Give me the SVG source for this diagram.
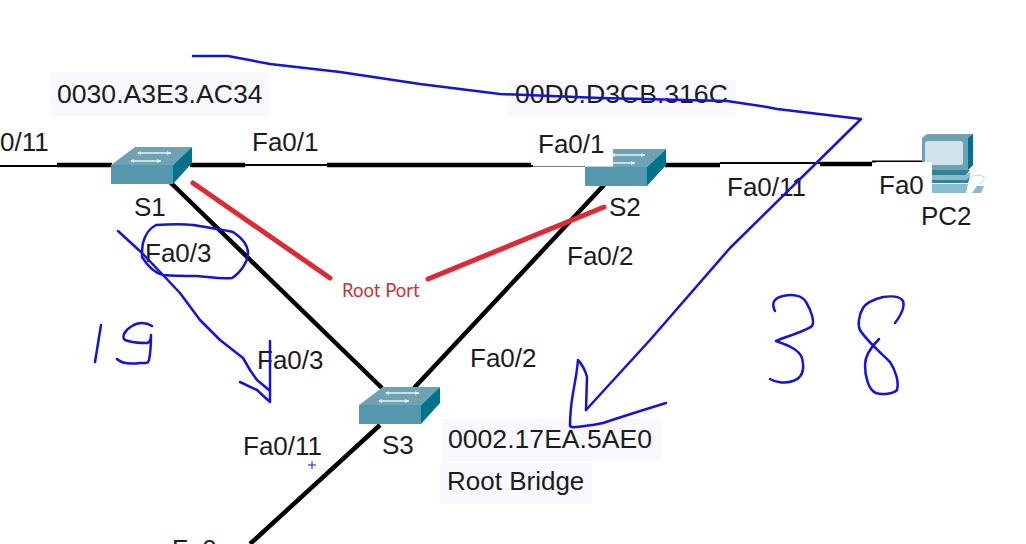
<svg xmlns="http://www.w3.org/2000/svg" width="1026" height="544" viewBox="0 0 1026 544">
<style>
text{font-family:"Liberation Sans",Arial,sans-serif;fill:#1c1c1c;font-size:26px}
text.m{font-size:26.600px}
.l{stroke:#000;fill:none;stroke-width:4.5}
.t{stroke:#000;fill:none;stroke-width:2.2}
.b{stroke:#1414d8;fill:none;stroke-width:2.5;stroke-linecap:round;stroke-linejoin:round}
.r{stroke:#de2a35;fill:none;stroke-width:5;stroke-linecap:round}
.bg{fill:#f8f8fe}
.top{fill:#6fa3b4}.front{fill:#5598ae}.side{fill:#00738c}
.a{stroke:#e8f2f5;stroke-width:1.4;fill:none}
</style>
<defs>
<g id="sw">
<path class="top" d="M0 19L24 1H81L62 19Z"/>
<path class="front" d="M0 19H62V38H0Z"/>
<path class="side" d="M62 19L81 1V17L62 38Z"/>
<path class="a" d="M27 7H60M20 15H50"/>
<path d="M26 7l4-2v4zM60 7l-4-2v4zM19 15l4-2v4zM50 15l-4-2v4z" fill="#e8f2f5"/>
</g>
</defs>
<rect width="1026" height="544" fill="#fff"/>
<g id="connectors">
<path class="t" d="M0 166H57M245 165H327M531 166H585M720 163H820M872 161.500H925"/>
<path class="l" d="M57 165H112M190 165H245M327 165H531M665 165H720M820 164H872"/>
<path class="l" d="M170 182L382 388M604 185L414 388M380 425L250 544"/>
</g>
<g id="S1">
<use href="#sw" x="111" y="146"/>
<text x="134" y="216">S1</text>
</g>
<g id="S2">
<use href="#sw" x="585" y="148"/>
<rect x="533" y="128" width="80" height="38.500" fill="#fff"/>
<text x="538" y="153">Fa0/1</text>
<text x="609" y="216">S2</text>
</g>
<g id="S3">
<use href="#sw" x="359" y="386"/>
<text x="382" y="454">S3</text>
</g>
<g id="PC2">
<path d="M922 138L927 134H973V165L968 170H922Z" fill="#6fa3b4"/>
<path d="M968 138L973 134V165L968 170Z" fill="#00738c"/>
<rect x="925" y="141" width="38" height="24" rx="3" fill="#cfe3ea"/>
<path d="M932 170H970L966 175H932Z" fill="#2f8399"/>
<path d="M932 175H966L970 172V177L966 180H932Z" fill="#8cbccb"/>
<path d="M932 180H966L970 177L968 183H932Z" fill="#2f8399"/>
<path d="M932 184H968L966 193H932Z" fill="#8cbccb"/>
<path d="M972 193L977 186H984L981 193Z" fill="#8cbccb"/>
<path d="M970 177Q978 173 984 177Q985 181 979 184" fill="none" stroke="#cfe3ea" stroke-width="1.300"/>
<rect x="876" y="162" width="56" height="40" fill="#fff"/>
<text x="879" y="194">Fa0</text>
<text x="921" y="225">PC2</text>
</g>
<g id="labels">
<rect class="bg" x="50" y="72" width="220" height="44"/>
<text class="m" x="57" y="103">0030.A3E3.AC34</text>
<rect class="bg" x="508" y="80" width="228" height="37"/>
<text class="m" x="515" y="103">00D0.D3CB.316C</text>
<text x="0" y="151">0/11</text>
<text x="252" y="151">Fa0/1</text>
<text x="727" y="196">Fa0/11</text>
<text x="145" y="262">Fa0/3</text>
<text x="567" y="265">Fa0/2</text>
<text x="257" y="369">Fa0/3</text>
<text x="470" y="367">Fa0/2</text>
<text x="243" y="455">Fa0/11</text>
<rect class="bg" x="442" y="419" width="219" height="43"/>
<text class="m" x="448" y="448">0002.17EA.5AE0</text>
<rect class="bg" x="440" y="463" width="152" height="41"/>
<text x="447" y="490">Root Bridge</text>
<text x="172" y="558">Fa0</text>
<text x="342" y="297" style="font-family:Lato,'Liberation Sans',sans-serif;font-size:18.500px;fill:#c8333a">Root Port</text>
</g>
<g id="annotations">
<path class="r" d="M193 183L330 278M428 279L604 207"/>
<path class="b" d="M193 56H228L270 64L340 72L420 84L500 94L600 98L727 101L767 107L777 109L861 119L730 248L650 340L586 410"/>
<path class="b" d="M586 410L587 377C586 372 582 364 578 360C577 372 575 382 573 393C571 405 570 416 570 426C572 428 575 427 577 427C585 426 595 425 603 423C615 419 640 411 666 403"/>
<path class="b" d="M118 231L142 253L163 275L180 293L200 320L220 340L243 358L250 370L257 380L269 390M270 341V402L257 390L240 382"/>
<path class="b" d="M143 243C145 235 150 228 156 225C170 224 185 224 193 225C210 228 225 230 233 232C242 238 248 246 248 253C248 262 240 273 232 278C220 279 210 277 197 276C185 276 175 276 163 275C155 273 147 265 142 257C142 252 142 248 143 243Z"/>
<path class="b" d="M101 325L95 362M152 326C146 322 138 322 132 326C125 330 121 337 125 340C132 343 142 343 147 343C151 342 151 337 151 335C151 345 150 355 149 360C148 364 145 363 140 363C132 364 122 364 117 359"/>
<path class="b" d="M775 311C771 303 774 298 783 296C792 294 802 295 806 302C811 310 815 322 812 326C806 331 785 337 776 341C787 345 799 349 802 358C805 370 802 378 793 381C784 384 775 382 770 379"/>
<path class="b" d="M895 323C901 315 905 307 903 301C900 296 890 296 883 297C875 299 866 303 863 308C858 316 858 326 860 330C866 340 880 352 890 362C896 371 899 382 897 390C893 394 882 395 876 393C868 390 865 375 865 365C865 355 873 345 879 339"/>
<path stroke="#1414d8" stroke-width="1" d="M308 465H316M312 461V469"/>
</g>
</svg>
